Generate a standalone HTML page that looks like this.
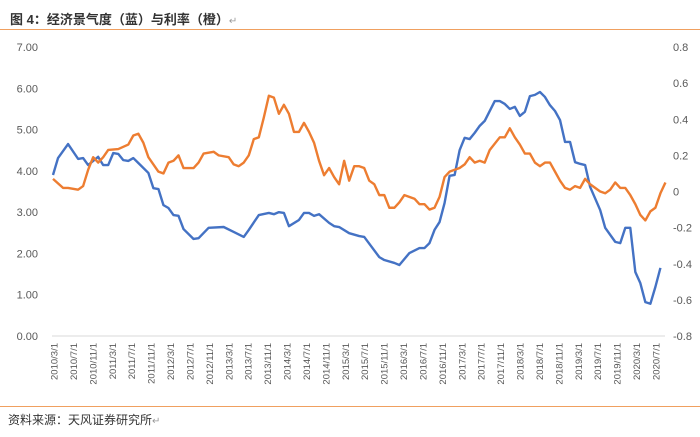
<!DOCTYPE html>
<html><head><meta charset="utf-8"><style>
body{margin:0;width:700px;height:437px;background:#fff;overflow:hidden;font-family:"Liberation Sans","Noto Sans CJK SC",sans-serif;}
#title{position:absolute;left:10px;top:9px;font-size:13px;font-weight:bold;color:#333;}
#src{position:absolute;left:8px;top:411px;font-size:12px;color:#333;}
.line{position:absolute;left:0;width:700px;height:1px;background:#f0a060;}
</style></head><body>
<div id="title">图 4：经济景气度（蓝）与利率（橙）<span style="font-weight:normal;color:#999;font-size:10px">↵</span></div>
<div class="line" style="top:29px"></div>
<div class="line" style="top:406px"></div>
<div id="src">资料来源：天风证券研究所<span style="color:#999;font-size:10px">↵</span></div>
<svg id="chart" width="700" height="437" style="position:absolute;left:0;top:0"></svg>
<script>
const tickLabels=["2010/3/1","2010/7/1","2010/11/1","2011/3/1","2011/7/1","2011/11/1","2012/3/1","2012/7/1","2012/11/1","2013/3/1","2013/7/1","2013/11/1","2014/3/1","2014/7/1","2014/11/1","2015/3/1","2015/7/1","2015/11/1","2016/3/1","2016/7/1","2016/11/1","2017/3/1","2017/7/1","2017/11/1","2018/3/1","2018/7/1","2018/11/1","2019/3/1","2019/7/1","2019/11/1","2020/3/1","2020/7/1"];
const leftTicks=[0,1,2,3,4,5,6,7];
const rightTicks=[-0.8,-0.6,-0.4,-0.2,0,0.2,0.4,0.6,0.8];
const blueMonths=[0,1,3,5,6,7,9,10,11,12,13,14,15,16,17,19,20,21,22,23,24,25,26,28,29,31,34,36,38,39,41,43,44,45,46,47,49,50,51,52,53,55,56,57,59,61,62,65,66,68,69,71,73,74,75,76,77,78,79,80,81,82,83,84,85,86,88,89,90,91,92,93,94,95,96,97,98,99,100,101,102,103,104,105,106,107,109,110,112,113,114,115,116,117,118,119,120,121];
const blueValues=[3.90,4.31,4.65,4.29,4.31,4.14,4.34,4.14,4.14,4.43,4.41,4.26,4.24,4.31,4.19,3.95,3.58,3.56,3.17,3.10,2.93,2.91,2.59,2.35,2.37,2.62,2.64,2.52,2.40,2.57,2.93,2.98,2.95,3.00,2.98,2.66,2.81,2.98,2.98,2.91,2.95,2.74,2.66,2.64,2.49,2.42,2.40,1.91,1.84,1.77,1.72,2.01,2.13,2.13,2.25,2.57,2.76,3.22,3.88,3.90,4.50,4.80,4.77,4.92,5.09,5.21,5.69,5.69,5.62,5.50,5.55,5.33,5.43,5.81,5.84,5.91,5.79,5.59,5.45,5.23,4.70,4.70,4.21,4.17,4.14,3.61,3.05,2.62,2.28,2.25,2.62,2.62,1.55,1.28,0.82,0.78,1.19,1.65];
const orangeMonths=[0,2,3,5,6,7,8,9,10,11,13,15,16,17,18,19,20,21,22,23,24,25,26,28,29,30,32,33,35,36,37,38,39,40,41,42,43,44,45,46,47,48,49,50,51,52,53,54,55,56,57,58,59,60,61,62,63,64,65,66,67,68,69,70,72,73,74,75,76,77,78,79,81,82,83,84,85,86,87,89,90,91,92,93,94,95,96,97,98,99,100,101,102,103,104,105,106,107,108,109,110,111,112,113,114,115,116,117,118,119,120,121,122];
const orangeValues=[0.07,0.02,0.02,0.01,0.03,0.12,0.19,0.16,0.19,0.23,0.235,0.26,0.31,0.32,0.27,0.19,0.15,0.11,0.10,0.16,0.17,0.20,0.13,0.13,0.16,0.21,0.22,0.20,0.19,0.15,0.14,0.16,0.20,0.29,0.30,0.41,0.53,0.52,0.43,0.48,0.43,0.33,0.33,0.38,0.33,0.27,0.17,0.09,0.13,0.08,0.04,0.17,0.06,0.14,0.14,0.13,0.06,0.04,-0.02,-0.02,-0.09,-0.09,-0.06,-0.02,-0.04,-0.07,-0.07,-0.10,-0.09,-0.03,0.08,0.11,0.13,0.15,0.19,0.16,0.17,0.16,0.23,0.30,0.30,0.35,0.30,0.26,0.21,0.21,0.16,0.14,0.16,0.16,0.11,0.06,0.02,0.01,0.03,0.02,0.07,0.04,0.02,0.00,-0.01,0.01,0.05,0.02,0.02,-0.02,-0.07,-0.13,-0.16,-0.11,-0.09,-0.01,0.05];

const NS="http://www.w3.org/2000/svg";
const svg=document.getElementById('chart');
const X0=53,PX=5.02,TOP=47,BOT=336,TICKSTEP=(656-54)/31;
const xS=m=>X0+m*PX;
const yL=v=>BOT-(v-0)/(7-0)*(BOT-TOP);
const yR=v=>BOT-(v+0.8)/1.6*(BOT-TOP);
function mk(tag,attrs){const e=document.createElementNS(NS,tag);for(const k in attrs)e.setAttribute(k,attrs[k]);svg.appendChild(e);return e;}

const axis=mk('line',{x1:52,x2:665,y1:BOT,y2:BOT,stroke:'#d9d9d9','stroke-width':1});



leftTicks.forEach(v=>{
  const t=mk('text',{x:38,y:yL(v)+4,'text-anchor':'end','font-size':'11','fill':'#595959','font-family':'Liberation Sans, sans-serif'});
  t.textContent=v.toFixed(2);
  
  
});
rightTicks.forEach(v=>{
  const t=mk('text',{x:673,y:yR(v)+4,'text-anchor':'start','font-size':'11','fill':'#595959','font-family':'Liberation Sans, sans-serif'});
  t.textContent=(Math.abs(v)<1e-9?'0':String(v));
  
  
});
tickLabels.forEach((s,i)=>{
  const x=54+i*TICKSTEP;
  const t=mk('text',{transform:`translate(${x+3.5},343) rotate(-90)`,'text-anchor':'end','font-size':'9.5','fill':'#595959','font-family':'Liberation Sans, sans-serif'});
  t.textContent=s;
  
  
});

const pb=mk('polyline',{points:blueMonths.map((m,i)=>xS(m)+','+yL(blueValues[i])).join(' '),fill:'none',stroke:'#4472c4','stroke-width':2.4,'stroke-linejoin':'round'});


const po=mk('polyline',{points:orangeMonths.map((m,i)=>xS(m)+','+yR(orangeValues[i])).join(' '),fill:'none',stroke:'#ed7d31','stroke-width':2.4,'stroke-linejoin':'round'});


</script>
</body></html>
